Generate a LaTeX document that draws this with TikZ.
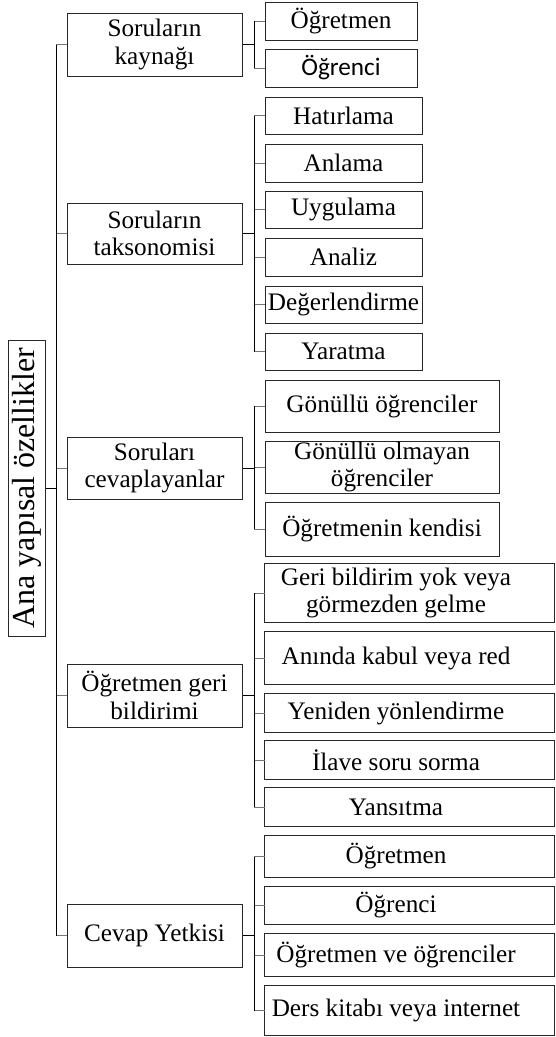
\documentclass[tikz,border=0pt]{standalone}
\usepackage{fontspec}
\setmainfont{Liberation Serif}
\newfontfamily\ysSansFont{Carlito}
\usetikzlibrary{positioning}
\definecolor{YsDark}{RGB}{40,40,40}
\definecolor{YsGray}{RGB}{118,118,118}
\tikzset{
  ys/box/.style={
    draw=YsDark,
    line width=1pt,
    fill=white,
    align=center,
    inner sep=0pt,
    text=black,
    font=\fontsize{25.2}{27.5}\selectfont
  },
  ys/text/.style={ys/box, draw=none, fill=none},
  ys/frame/.style={draw=YsDark, line width=1pt},
  ys/root/.style={
    ys/box,
    rotate=90,
    minimum width=296,
    minimum height=37,
    font=\fontsize{32}{36}\selectfont
  },
  ys/main/.style={ys/box, minimum width=175},
  ys/branch/.style={draw=black, line width=1pt},
  ys/twig/.style={draw=YsGray, line width=1pt}
}

\begin{document}
\begin{tikzpicture}[x=1pt,y=-1pt]
  \useasboundingbox (0,0) rectangle (555,1037);
  \coordinate (edge) at (554,0);
  \node[ys/root] (root) at (26.5,488) {Ana yapısal özellikler};

  \node[ys/main,minimum height=63] (kaynak) at (154.5,44.5) {Soruların\\kaynağı};
  \node[ys/main,minimum height=61] (takso) at (154.5,233.5) {Soruların\\taksonomisi};
  \node[ys/main,minimum height=62] (cevap) at (154.5,468) {Soruları\\cevaplayanlar};
  \node[ys/main,minimum height=63] (geri) at (154.5,695.5) {Öğretmen geri\\bildirimi};
  \node[ys/main,minimum height=63] (yetki) at (154.5,935.5) {Cevap Yetkisi};

  \foreach \nm/\cy/\hh/\txt in {kogr/21/38/Öğretmen, kogc/68/38/{\ysSansFont Öğrenci}}
    \node[ys/box,minimum width=152,minimum height=\hh] (\nm) at (341,\cy) {\txt};
  \foreach \nm/\cy/\hh/\txt in {hat/115.5/37/Hatırlama, anl/163/38/Anlama,
      uyg/209.5/37/Uygulama, ana/257/38/Analiz, deg/304.5/37/Değerlendirme,
      yar/351.5/37/Yaratma}
    \node[ys/box,minimum width=157,minimum height=\hh] (\nm) at (343.5,\cy) {\txt};
  \foreach \nm/\cy/\hh/\txt in {gon/406/52/Gönüllü öğrenciler,
      gol/467/52/Gönüllü olmayan\\öğrenciler, ken/529/54/Öğretmenin kendisi}
    \node[ys/box,minimum width=234,minimum height=\hh] (\nm) at (382,\cy) {\txt};
  % wide boxes run past the right edge, text sits left of centre
  \foreach \nm/\cy/\hh/\txt in {yok/593/58/Geri bildirim yok veya\\görmezden gelme,
      kab/658/52/Anında kabul veya red, yon/713/38/Yeniden yönlendirme,
      ila/760/38/İlave soru sorma, yan/807/38/Yansıtma,
      yogr/856.5/41/Öğretmen, yogc/905.5/37/Öğrenci,
      yove/955/42/Öğretmen ve öğrenciler, yder/1010.5/49/Ders kitabı veya internet}
  {
    \node[ys/text,minimum width=262,minimum height=\hh] (\nm) at (396,\cy) {\txt};
    \draw[ys/frame] (\nm.north west) rectangle (\nm.south east -| edge);
  }

  \coordinate (trunk) at (56,488);
  \draw[ys/branch] (root.south) -- (trunk);
  \foreach \nm in {kaynak,takso,cevap,geri,yetki}
    \draw[ys/twig] (trunk) |- (\nm.west);
  \draw[ys/branch] (kaynak.west -| trunk) -- (yetki.west -| trunk);

  \coordinate (b1) at (254,44.5);
  \coordinate (b2) at (254,233.5);
  \coordinate (b3) at (254,468);
  \coordinate (b4) at (254,695.5);
  \coordinate (b5) at (254,935.5);
  \foreach \nm/\bus in {kaynak/b1,takso/b2,cevap/b3,geri/b4,yetki/b5}
    \draw[ys/branch] (\nm.east) -- (\bus);
  \foreach \nm/\bus in {kogr/b1,kogc/b1,hat/b2,anl/b2,uyg/b2,ana/b2,deg/b2,yar/b2,
      gon/b3,gol/b3,ken/b3,yok/b4,kab/b4,yon/b4,ila/b4,yan/b4,
      yogr/b5,yogc/b5,yove/b5,yder/b5}
    \draw[ys/twig] (\bus) |- (\nm.west);
  \draw[ys/branch] (kogr.west -| b1) -- (kogc.west -| b1);
  \draw[ys/branch] (hat.west -| b2) -- (yar.west -| b2);
  \draw[ys/branch] (gon.west -| b3) -- (ken.west -| b3);
  \draw[ys/branch] (yok.west -| b4) -- (yan.west -| b4);
  \draw[ys/branch] (yogr.west -| b5) -- (yder.west -| b5);
\end{tikzpicture}
\end{document}
